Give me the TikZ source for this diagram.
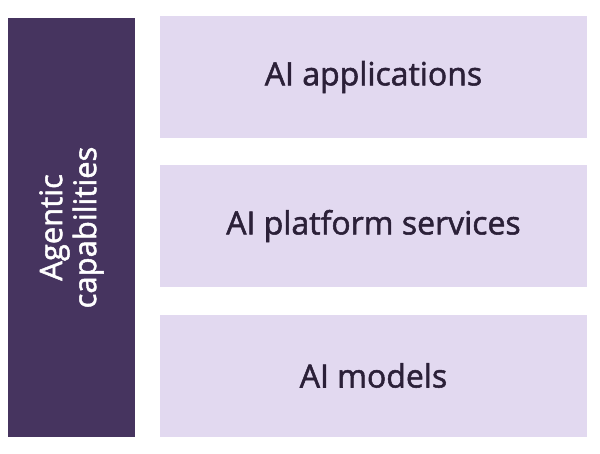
\documentclass[tikz,border=0pt]{standalone}
\usepackage{fontspec}
\setmainfont{Open Sans}[FakeBold=1.6]
\definecolor{darkp}{HTML}{46345F}
\definecolor{lightp}{HTML}{E2D9F0}
\definecolor{txt}{HTML}{2B2038}
\begin{document}
\begin{tikzpicture}[x=1pt,y=-1pt,
  box/.style={fill=lightp,draw=none,minimum width=427pt,minimum height=122pt,inner sep=0pt,font=\fontsize{32}{38}\selectfont,text=txt},
  bar/.style={fill=darkp,draw=none,inner sep=0pt}]
\useasboundingbox (0,0) rectangle (600,453);
\node[bar,minimum width=127pt,minimum height=419pt] (bar) at (71.5,227.5) {};
\node[rotate=90,align=center,text=white,font=\fontsize{31}{34}\selectfont] (lbl) at (bar.center) {Agentic\\capabilities};
\node[box] (app) at (373.5,77) {AI applications};
\node[box] (plat) at (373.5,226) {AI platform services};
\node[box] (mod) at (373.5,375.5) {AI models};
\end{tikzpicture}
\end{document}
